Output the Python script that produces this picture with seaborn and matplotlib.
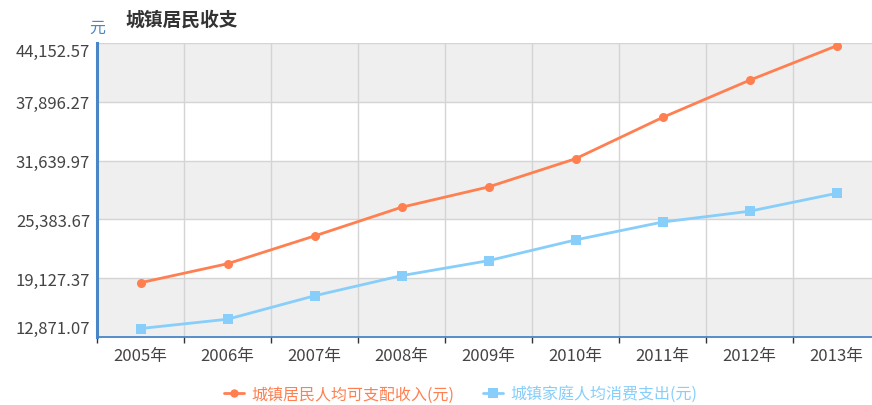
import matplotlib
matplotlib.use("Agg")
import matplotlib.pyplot as plt
import pandas as pd
import seaborn as sns

years = ["2005年", "2006年", "2007年", "2008年", "2009年", "2010年", "2011年", "2012年", "2013年"]
income = [18645, 20668, 23623, 26675, 28838, 31838, 36230, 40188, 43851]
spending = [13773, 14762, 17255, 19398, 20992, 23200, 25102, 26253, 28155]
income_name = "城镇居民人均可支配收入(元)"
spending_name = "城镇家庭人均消费支出(元)"
y_ticks = [12871.07, 19127.37, 25383.67, 31639.97, 37896.27, 44152.57]

ORANGE = "#ff7f50"
BLUE = "#87cefa"
AXIS_BLUE = "#4a86c5"

sns.set_theme(style="white")
plt.rcParams["font.family"] = ["Noto Sans CJK SC", "DejaVu Sans"]

df = pd.DataFrame({
    "year": years * 2,
    "value": income + spending,
    "series": [income_name] * len(years) + [spending_name] * len(years),
})

fig = plt.figure(figsize=(8.72, 4.06), dpi=100)
ax = fig.add_axes([97 / 872, 68 / 406, 783 / 872, 294 / 406])

# alternating bands, top band grey
for i in range(len(y_ticks) - 1):
    if (len(y_ticks) - 2 - i) % 2 == 0:
        ax.axhspan(y_ticks[i], y_ticks[i + 1], color="#efefef", zorder=0, lw=0)

sns.lineplot(
    data=df, x="year", y="value", hue="series", style="series",
    palette={income_name: ORANGE, spending_name: BLUE},
    markers={income_name: "o", spending_name: "s"}, dashes=False,
    markersize=6.5, markeredgewidth=0, linewidth=2, ax=ax, legend=False, zorder=3,
)

ax.set_xlim(-0.5, len(years) - 0.5)
ax.set_ylim(y_ticks[0], y_ticks[-1])
ax.set_yticks(y_ticks)
ax.set_yticklabels([f"{v:,.2f}" for v in y_ticks])
ax.set_xticks(range(len(years)))
ax.set_xticklabels(years)
ax.set_xticks([k - 0.5 for k in range(len(years) + 1)], minor=True)
ax.set_xlabel("")
ax.set_ylabel("")

for y in y_ticks[1:]:
    ax.axhline(y, color="#d4d4d4", lw=1, zorder=1)
for k in range(1, len(years)):
    ax.axvline(k - 0.5, color="#d4d4d4", lw=1, zorder=1)

ax.tick_params(axis="x", which="major", length=0, pad=7, labelsize=12, labelcolor="#444444")
ax.tick_params(axis="x", which="minor", length=4, width=1, color="#333333", direction="out", bottom=True)
ax.tick_params(axis="y", length=0, pad=5, labelsize=12, labelcolor="#444444")
ylabels = ax.get_yticklabels()
ylabels[0].set_va("bottom")
ylabels[-1].set_va("top")

for side in ["top", "right"]:
    ax.spines[side].set_visible(False)
ax.spines["left"].set_color(AXIS_BLUE)
ax.spines["left"].set_linewidth(2.2)
ax.spines["bottom"].set_color(AXIS_BLUE)
ax.spines["bottom"].set_linewidth(1.3)

fig.text(125 / 872, 1 - 20 / 406, "城镇居民收支", fontsize=13.5, fontweight="bold",
         color="#333333", va="center", ha="left")
fig.text(97 / 872, 1 - 28 / 406, "元", fontsize=11.5, color=AXIS_BLUE, va="center", ha="center")

handles = [
    plt.Line2D([], [], color=ORANGE, marker="o", markersize=6, lw=2, markeredgewidth=0),
    plt.Line2D([], [], color=BLUE, marker="s", markersize=6.5, lw=2, markeredgewidth=0),
]
leg = fig.legend(handles, [income_name, spending_name], loc="center", ncol=2,
                 bbox_to_anchor=(461 / 872, 11 / 406), frameon=False, fontsize=11.5,
                 handlelength=1.2, handletextpad=0.5, columnspacing=1.8)
for txt, c in zip(leg.get_texts(), [ORANGE, BLUE]):
    txt.set_color(c)

fig.savefig("out.png", dpi=100)
